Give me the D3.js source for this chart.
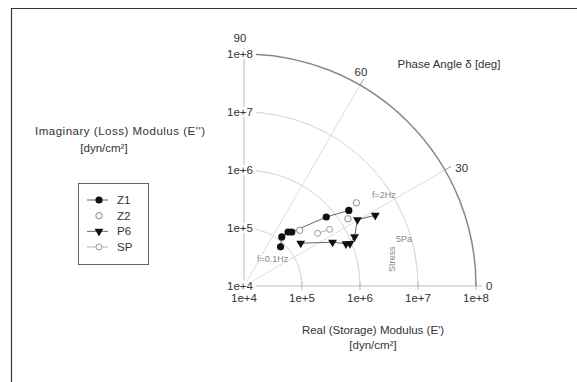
<!DOCTYPE html>
<html>
<head>
<meta charset="utf-8">
<script src="https://cdn.jsdelivr.net/npm/d3@7"></script>
<style>
  html, body { margin: 0; padding: 0; background: #fff; }
  svg { display: block; }
  text { font-family: "Liberation Sans", Arial, sans-serif; fill: #333; }
</style>
</head>
<body>
<script>
// Polar (log-modulus / phase angle) plot of complex modulus measurements.
const seriesNames = ["Z1", "Z2", "P6", "SP"];

// |E*| in dyn/cm^2 and phase angle δ in degrees for each series
const z1Modulus = [8.4e4, 1.17e5, 1.59e5, 1.75e5, 7.1e5, 1.69e6];
const z1Phase   = [47.0, 52.4, 50.8, 48.5, 40.0, 35.8];

const z2Modulus = [2.28e5, 1.36e6, 2.57e6];
const z2Phase   = [45.0, 32.9, 36.5];

const p6Modulus = [1.68e5, 5.05e5, 8.0e5, 9.27e5, 1.22e6, 1.84e6, 3.72e6];
const p6Phase   = [37.0, 26.3, 22.5, 21.8, 24.0, 30.3, 28.3];

const spModulus = [3.64e5, 5.89e5];
const spPhase   = [35.6, 33.5];

const radialTicks = [1e4, 1e5, 1e6, 1e7, 1e8];
const radialTickLabels = ["1e+4", "1e+5", "1e+6", "1e+7", "1e+8"];
const angleTicks = [0, 30, 60, 90];
const angleTickLabels = ["0", "30", "60", "90"];

const W = 577, H = 382;
const cx = 244, cy = 286, R = 232;
const FS = 11.5;

const svg = d3.select("body").append("svg").attr("width", W).attr("height", H);

// Partial frame (top and left edges)
svg.append("path")
  .attr("d", `M11.5,${H} L11.5,8.5 L${W},8.5`)
  .attr("fill", "none").attr("stroke", "#333").attr("stroke-width", 1.2);

const r = d3.scaleLog().domain([1e4, 1e8]).range([0, R]);
const toRad = d => d * Math.PI / 180;
const px = (m, a) => cx + r(m) * Math.cos(toRad(a));
const py = (m, a) => cy - r(m) * Math.sin(toRad(a));

const g = svg.append("g");

// Inner modulus arcs
const arc = d3.arc().startAngle(0).endAngle(Math.PI / 2);
radialTicks.slice(1, 4).forEach(t => {
  g.append("path")
    .attr("transform", `translate(${cx},${cy})`)
    .attr("d", arc({innerRadius: r(t), outerRadius: r(t)}))
    .attr("fill", "none").attr("stroke", "#ddd").attr("stroke-width", 1);
});

// Radial spokes at 30 and 60 degrees
[30, 60].forEach(a => {
  g.append("line")
    .attr("x1", cx).attr("y1", cy)
    .attr("x2", px(1e8, a)).attr("y2", py(1e8, a))
    .attr("stroke", "#ddd").attr("stroke-width", 1);
  // outer tick mark
  const m2 = r.invert(R + 7);
  g.append("line")
    .attr("x1", px(1e8, a)).attr("y1", py(1e8, a))
    .attr("x2", px(m2, a)).attr("y2", py(m2, a))
    .attr("stroke", "#999").attr("stroke-width", 1);
});

// Axes along 0 and 90 degrees
g.append("line").attr("x1", cx).attr("y1", cy).attr("x2", px(1e8, 0) + 6).attr("y2", cy)
  .attr("stroke", "#bbb").attr("stroke-width", 1);
g.append("line").attr("x1", cx).attr("y1", cy).attr("x2", cx).attr("y2", py(1e8, 90) - 6)
  .attr("stroke", "#bbb").attr("stroke-width", 1);

// x-axis tick marks
radialTicks.forEach(t => {
  g.append("line").attr("x1", px(t, 0)).attr("x2", px(t, 0))
    .attr("y1", cy - 4).attr("y2", cy + 4)
    .attr("stroke", "#bbb").attr("stroke-width", 1);
});

// Outer arc (1e+8)
g.append("path")
  .attr("transform", `translate(${cx},${cy})`)
  .attr("d", arc({innerRadius: R, outerRadius: R}))
  .attr("fill", "none").attr("stroke", "#888").attr("stroke-width", 1.5);

// Radial tick labels along the horizontal axis
radialTicks.forEach((t, i) => {
  g.append("text").attr("x", px(t, 0)).attr("y", cy + 16)
    .attr("text-anchor", "middle").attr("font-size", FS)
    .text(radialTickLabels[i]);
});
// Radial tick labels along the vertical axis (white-backed)
radialTicks.forEach((t, i) => {
  const ty = py(t, 90);
  g.append("rect").attr("x", cx - 16).attr("y", ty - 5).attr("width", 28).attr("height", 10).attr("fill", "#fff");
  g.append("text").attr("x", cx - 4).attr("y", ty + 4)
    .attr("text-anchor", "middle").attr("font-size", FS)
    .text(radialTickLabels[i]);
});

// Angle labels around the outer arc
const angleLabelPos = {0: [R + 10, "start", 4, 0], 30: [R + 12, "start", 8, 0], 60: [R + 10, "middle", 0, -4], 90: [R + 12, "middle", 0, -4]};
angleTicks.forEach((a, i) => {
  const [rr, anchor, dy, dx] = angleLabelPos[a];
  const m = r.invert(rr);
  g.append("text").attr("x", px(m, a) + dx).attr("y", py(m, a) + dy)
    .attr("text-anchor", anchor).attr("font-size", FS)
    .text(angleTickLabels[i]);
});

// Axis titles
g.append("text").attr("x", 449).attr("y", 68).attr("text-anchor", "middle").attr("font-size", FS)
  .text("Phase Angle δ [deg]");
const xt = g.append("text").attr("text-anchor", "middle").attr("font-size", FS);
xt.append("tspan").attr("x", 373).attr("y", 334).text("Real (Storage) Modulus (E')");
xt.append("tspan").attr("x", 373).attr("y", 349).text("[dyn/cm²]");
const yt = g.append("text").attr("text-anchor", "middle").attr("font-size", FS);
yt.append("tspan").attr("x", 120).attr("y", 135).attr("textLength", 170).text("Imaginary (Loss) Modulus (E'')");
yt.append("tspan").attr("x", 104).attr("y", 152).text("[dyn/cm²]");

// Annotations
const ann = (x, y, s) => g.append("text").attr("x", x).attr("y", y).attr("font-size", 9)
  .style("fill", "#888").text(s);
ann(257, 262, "f=0.1Hz");
ann(372, 198, "f=2Hz");
ann(396, 242, "5Pa");
g.append("text").attr("transform", "translate(395,272) rotate(-90)").attr("font-size", 9)
  .style("fill", "#888").text("Stress");

// Series
const line = d3.line().x(d => px(d[0], d[1])).y(d => py(d[0], d[1]));
const zipS = (m, p) => m.map((v, i) => [v, p[i]]);
const z1 = zipS(z1Modulus, z1Phase);
const z2 = zipS(z2Modulus, z2Phase);
const p6 = zipS(p6Modulus, p6Phase);
const sp = zipS(spModulus, spPhase);

g.append("path").attr("d", line(z1)).attr("fill", "none").attr("stroke", "#555").attr("stroke-width", 0.9);
g.append("path").attr("d", line(p6)).attr("fill", "none").attr("stroke", "#555").attr("stroke-width", 0.9);
g.append("path").attr("d", line(sp)).attr("fill", "none").attr("stroke", "#aaa").attr("stroke-width", 0.9);

const tri = d3.symbol().type(d3.symbolTriangle).size(34);

function drawMarker(sel, kind, x, y) {
  if (kind === "Z1") {
    sel.append("circle").attr("cx", x).attr("cy", y).attr("r", 3.6).attr("fill", "#111");
  } else if (kind === "Z2") {
    sel.append("circle").attr("cx", x).attr("cy", y).attr("r", 3.2)
      .attr("fill", "#fff").attr("stroke", "#888").attr("stroke-width", 1);
  } else if (kind === "P6") {
    sel.append("path").attr("d", tri).attr("transform", `translate(${x},${y}) rotate(180)`).attr("fill", "#111");
  } else {
    sel.append("circle").attr("cx", x).attr("cy", y).attr("r", 3)
      .attr("fill", "#fff").attr("stroke", "#999").attr("stroke-width", 1);
  }
}

sp.forEach(d => drawMarker(g, "SP", px(d[0], d[1]), py(d[0], d[1])));
z2.forEach(d => drawMarker(g, "Z2", px(d[0], d[1]), py(d[0], d[1])));
p6.forEach(d => drawMarker(g, "P6", px(d[0], d[1]), py(d[0], d[1])));
z1.forEach(d => drawMarker(g, "Z1", px(d[0], d[1]), py(d[0], d[1])));

// Legend
const lg = svg.append("g");
lg.append("rect").attr("x", 78.5).attr("y", 183.5).attr("width", 70).attr("height", 81)
  .attr("fill", "#fff").attr("stroke", "#666").attr("stroke-width", 1);
const ly = d3.scalePoint().domain(seriesNames).range([200, 247]);
const legendLine = {Z1: "#555", Z2: null, P6: "#555", SP: "#aaa"};
seriesNames.forEach(s => {
  const y = ly(s);
  if (legendLine[s]) {
    lg.append("line").attr("x1", 87).attr("x2", 108).attr("y1", y).attr("y2", y)
      .attr("stroke", legendLine[s]).attr("stroke-width", 0.9);
  }
  drawMarker(lg, s, 99, y);
  lg.append("text").attr("x", 117).attr("y", y + 4).attr("font-size", FS).text(s);
});
</script>
</body>
</html>
